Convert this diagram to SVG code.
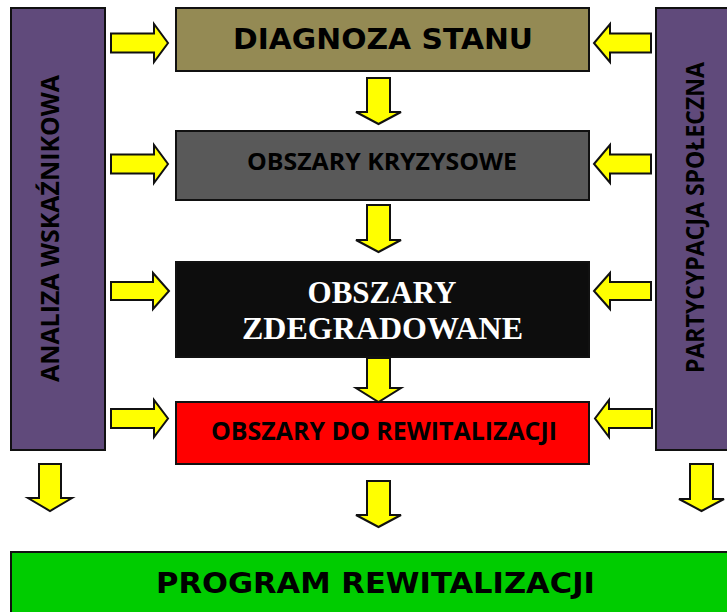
<svg xmlns="http://www.w3.org/2000/svg" width="727" height="612" viewBox="0 0 727 612">
<style>
.box{stroke:#111;stroke-width:2}
.arr{fill:#FFFF00;stroke:#111;stroke-width:2;stroke-linejoin:miter}
.v{font-family:"DejaVu Sans",Verdana,sans-serif;font-weight:bold;fill:#000;text-anchor:middle}
.c{font-family:"Open Sans","Noto Sans",sans-serif;font-weight:bold;fill:#000;text-anchor:middle}
.t{font-family:"Liberation Serif","Times New Roman",serif;font-weight:bold;fill:#fff;text-anchor:middle}
</style>
<rect width="727" height="612" fill="#fff"/>
<g id="analiza">
<rect class="box" x="11" y="8" width="94" height="442" fill="#604A7B"/>
<text class="c" transform="translate(59,228.5) rotate(-90)" font-size="25" textLength="307" lengthAdjust="spacingAndGlyphs">ANALIZA WSKAŹNIKOWA</text>
</g>
<g id="partycypacja">
<rect class="box" x="656" y="8" width="90" height="442" fill="#604A7B"/>
<text class="c" transform="translate(704,217.5) rotate(-90)" font-size="25" textLength="311" lengthAdjust="spacingAndGlyphs">PARTYCYPACJA SPOŁECZNA</text>
</g>
<g id="diagnoza">
<rect class="box" x="176" y="8" width="413" height="63" fill="#948A54"/>
<text class="v" x="383" y="49" font-size="29" textLength="300" lengthAdjust="spacingAndGlyphs">DIAGNOZA STANU</text>
</g>
<g id="kryzysowe">
<rect class="box" x="176" y="131" width="413" height="69" fill="#595959"/>
<text class="c" x="382" y="170" font-size="22.5" textLength="270" lengthAdjust="spacingAndGlyphs">OBSZARY KRYZYSOWE</text>
</g>
<g id="zdegradowane">
<rect class="box" x="176" y="262" width="413" height="95" fill="#0D0D0D"/>
<text class="t" x="382" y="303" font-size="32" textLength="149" lengthAdjust="spacingAndGlyphs">OBSZARY</text>
<text class="t" x="382.5" y="339" font-size="32" textLength="281" lengthAdjust="spacingAndGlyphs">ZDEGRADOWANE</text>
</g>
<g id="rewitalizacja">
<rect class="box" x="176" y="402" width="413" height="62" fill="#FF0000"/>
<text class="c" x="384" y="440" font-size="25" textLength="346" lengthAdjust="spacingAndGlyphs">OBSZARY DO REWITALIZACJI</text>
</g>
<g id="program">
<rect class="box" x="11" y="552" width="730" height="70" fill="#00CC00"/>
<text class="v" x="375.5" y="593" font-size="29" textLength="439" lengthAdjust="spacingAndGlyphs">PROGRAM REWITALIZACJI</text>
</g>
<g id="connectors">
<path class="arr" d="M111,33.5H154V24L168,43L154,62V52.5H111Z"/>
<path class="arr" d="M111,154.5H154V145L168,164L154,183V173.5H111Z"/>
<path class="arr" d="M111,282H153V273L169,291L153,309V300H111Z"/>
<path class="arr" d="M111,409H154V400L168,418.5L154,437V428H111Z"/>
<path class="arr" d="M651,33.5H610V24L594,43L610,62V52.5H651Z"/>
<path class="arr" d="M651,154.5H610V145L594,164L610,183V173.5H651Z"/>
<path class="arr" d="M651,282H610V273L594,291L610,309V300H651Z"/>
<path class="arr" d="M652,409H609V400L595,418.5L609,437V428H652Z"/>
<path class="arr" d="M367,78V112H356L378.5,124L401,112H390V78Z"/>
<path class="arr" d="M367,205V240H356L378.5,252L401,240H390V205Z"/>
<path class="arr" d="M367,358V388H356L378.5,402L401,388H390V358Z"/>
<path class="arr" d="M367,481V515H356L378.5,527L401,515H390V481Z"/>
<path class="arr" d="M39,464V498H28L50,511L72,498H61V464Z"/>
<path class="arr" d="M690,464V499H679L701.5,511L724,499H713V464Z"/>
</g>
</svg>
